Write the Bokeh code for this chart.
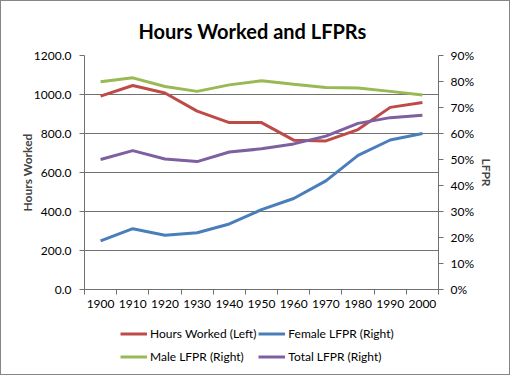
from bokeh.plotting import figure
from bokeh.models import (Range1d, LinearAxis, FixedTicker, NumeralTickFormatter,
                          Legend, LegendItem)
from bokeh.layouts import column
from bokeh.embed import file_html
from bokeh.resources import INLINE

years = [1900, 1910, 1920, 1930, 1940, 1950, 1960, 1970, 1980, 1990, 2000]
hours_worked = [992, 1046, 1008, 915, 856, 856, 766, 762, 820, 934, 959]
female_lfpr = [0.187, 0.234, 0.209, 0.218, 0.252, 0.307, 0.350, 0.418, 0.516, 0.575, 0.600]
male_lfpr = [0.799, 0.814, 0.781, 0.762, 0.787, 0.803, 0.789, 0.777, 0.775, 0.762, 0.748]
total_lfpr = [0.500, 0.534, 0.502, 0.492, 0.529, 0.541, 0.560, 0.590, 0.639, 0.661, 0.670]

left_ticks = [0, 200, 400, 600, 800, 1000, 1200]
right_ticks = [0, 0.1, 0.2, 0.3, 0.4, 0.5, 0.6, 0.7, 0.8, 0.9]

series_names = ["Hours Worked (Left)", "Female LFPR (Right)", "Male LFPR (Right)", "Total LFPR (Right)"]
series_colors = ["#BE4B48", "#4A7EBB", "#98B954", "#7D60A0"]
series_values = [hours_worked, female_lfpr, male_lfpr, total_lfpr]
series_axis = ["default", "pct", "pct", "pct"]

FONT = "Lato"
AXIS_COL = "#707070"
W = 508

p = figure(width=W, height=318, output_backend="svg", toolbar_location=None,
           x_range=Range1d(years[0] - 5, years[-1] + 5),
           y_range=Range1d(0, 1200),
           min_border_left=83, min_border_right=71, min_border_top=54,
           min_border_bottom=30, x_axis_location=None, y_axis_location=None)
p.extra_y_ranges = {"pct": Range1d(0, 0.9)}
p.outline_line_color = None
p.background_fill_color = "white"
p.border_fill_color = "white"

p.title.text = "Hours Worked and LFPRs"
p.title.align = "left"
p.title.text_font = FONT
p.title.text_font_size = "20px"
p.title.text_font_style = "bold"
p.title.text_color = "black"
p.title.offset = 54
p.title.standoff = 26

# x axis
xaxis = LinearAxis(ticker=FixedTicker(ticks=years,
                                      minor_ticks=[y - 5 for y in years] + [years[-1] + 5]))
xaxis.major_tick_out = 0
xaxis.major_tick_in = 0
xaxis.minor_tick_out = 5
xaxis.minor_tick_in = 0
xaxis.minor_tick_line_color = AXIS_COL
xaxis.axis_line_color = AXIS_COL
xaxis.major_label_standoff = 5
xaxis.major_label_text_font = FONT
xaxis.major_label_text_font_size = "12px"
xaxis.major_label_text_color = "black"
p.add_layout(xaxis, "below")

# left axis
yaxis = LinearAxis(ticker=FixedTicker(ticks=left_ticks),
                   formatter=NumeralTickFormatter(format="0.0"),
                   axis_label="Hours Worked")
yaxis.major_tick_out = 5
yaxis.major_tick_in = 0
yaxis.minor_tick_out = 0
yaxis.minor_tick_in = 0
yaxis.major_tick_line_color = AXIS_COL
yaxis.axis_line_color = AXIS_COL
yaxis.major_label_standoff = 8
yaxis.major_label_text_font = FONT
yaxis.major_label_text_font_size = "12px"
yaxis.major_label_text_color = "black"
yaxis.axis_label_text_font = FONT
yaxis.axis_label_text_font_size = "12px"
yaxis.axis_label_text_font_style = "bold"
yaxis.axis_label_standoff = -4
p.add_layout(yaxis, "left")

# right axis
raxis = LinearAxis(y_range_name="pct", ticker=FixedTicker(ticks=right_ticks),
                   formatter=NumeralTickFormatter(format="0%"), axis_label="LFPR")
raxis.major_tick_out = 5
raxis.major_tick_in = 0
raxis.minor_tick_out = 0
raxis.minor_tick_in = 0
raxis.major_tick_line_color = AXIS_COL
raxis.axis_line_color = AXIS_COL
raxis.major_label_standoff = 7
raxis.major_label_text_font = FONT
raxis.major_label_text_font_size = "12px"
raxis.major_label_text_color = "black"
raxis.axis_label_text_font = FONT
raxis.axis_label_text_font_size = "12px"
raxis.axis_label_text_font_style = "bold"
raxis.axis_label_standoff = 2
p.add_layout(raxis, "right")

p.xgrid.visible = False
p.ygrid.ticker = FixedTicker(ticks=left_ticks)
p.ygrid.grid_line_color = AXIS_COL
p.ygrid.grid_line_width = 1

LW = 3
for vals, col, rng in zip(series_values, series_colors, series_axis):
    p.line(years, vals, line_color=col, line_width=LW, y_range_name=rng)

# legend panel (separate small figure beneath the chart; its frame shows no data)
lg = figure(width=W, height=55, output_backend="svg", toolbar_location=None,
            x_range=Range1d(0, 1), y_range=Range1d(0, 1), min_border=0,
            x_axis_location=None, y_axis_location=None)
lg.outline_line_color = None
lg.xgrid.visible = False
lg.ygrid.visible = False
lg.border_fill_color = "white"
items = []
for name, col, vals in zip(series_names, series_colors, series_values):
    r = lg.line(years, vals, line_color=col, line_width=LW)
    items.append(LegendItem(label=name, renderers=[r]))
legend = Legend(items=items, orientation="horizontal", ncols=2)
legend.label_text_font = FONT
legend.label_text_font_size = "12px"
legend.label_text_color = "black"
legend.glyph_width = 27
legend.glyph_height = 21
legend.label_height = 21
legend.label_standoff = 3
legend.spacing = 2
legend.padding = 0
legend.margin = 0
legend.border_line_color = None
legend.background_fill_alpha = 0
legend.location = (36, 7)
lg.add_layout(legend)

layout = column(p, lg, spacing=0)
layout.styles = {"border": "1px solid #868686", "background-color": "white"}

open("out.html", "w").write(file_html(layout, INLINE))
